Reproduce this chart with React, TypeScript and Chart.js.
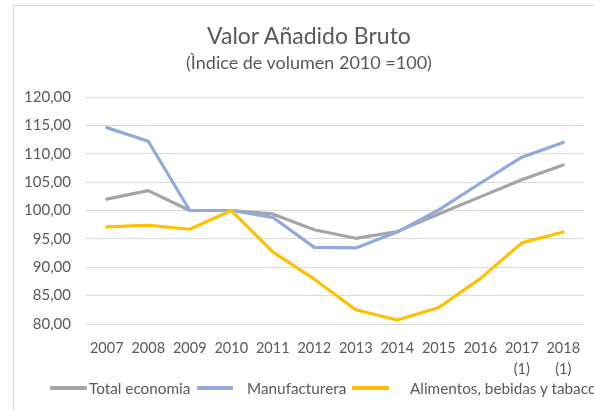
import React, { useEffect, useRef } from "react";
import { Chart, registerables } from "chart.js";

Chart.register(...registerables);

const categories: (string | string[])[] = [
  "2007", "2008", "2009", "2010", "2011", "2012", "2013", "2014", "2015", "2016",
  ["2017", "(1)"], ["2018", "(1)"],
];
const totalEconomia = [102.0, 103.5, 100.0, 100.0, 99.4, 96.6, 95.1, 96.3, 99.4, 102.4, 105.4, 108.0];
const manufacturera = [114.6, 112.2, 100.0, 100.0, 98.8, 93.5, 93.4, 96.2, 100.1, 104.8, 109.4, 112.0];
const alimentos = [97.1, 97.4, 96.7, 100.0, 92.7, 87.9, 82.5, 80.7, 82.9, 88.0, 94.3, 96.2];
const seriesNames = ["Total economia", "Manufacturera", "Alimentos, bebidas y tabaco"];
const seriesColors = ["#A5A5A5", "#8FAADC", "#FFC000"];
const titleText = "Valor Añadido Bruto";
const subtitleText = "(Ìndice de volumen 2010 =100)";
const yMin = 80;
const yMax = 120;
const yStep = 5;

const FONT = "Lato, 'Open Sans', sans-serif";
const TEXT = "#595959";

export default function App() {
  const ref = useRef<HTMLCanvasElement | null>(null);

  useEffect(() => {
    if (!ref.current) return;
    const values = [totalEconomia, manufacturera, alimentos];
    const chart = new Chart(ref.current, {
      type: "line",
      data: {
        labels: categories,
        datasets: values.map((v, i) => ({
          label: seriesNames[i],
          data: v,
          borderColor: seriesColors[i],
          backgroundColor: seriesColors[i],
          borderWidth: 3.2,
          pointRadius: 0,
          pointHoverRadius: 0,
          tension: 0,
          borderCapStyle: "round" as const,
          borderJoinStyle: "round" as const,
          order: 3 - i,
        })),
      },
      options: {
        animation: false,
        responsive: false,
        maintainAspectRatio: false,
        layout: { padding: { left: 0, right: 10, top: 97, bottom: 20 } },
        plugins: {
          legend: { display: false },
          title: { display: false },
          tooltip: { enabled: false },
        },
        scales: {
          x: {
            offset: true,
            grid: { display: false, drawTicks: false },
            border: { display: false },
            ticks: {
              color: TEXT,
              font: { family: FONT, size: 14.5, lineHeight: 1.5 },
              padding: 13,
              maxRotation: 0,
              autoSkip: false,
            },
            afterFit: (s: any) => {
              s.height = 66;
            },
          },
          y: {
            min: yMin,
            max: yMax,
            grid: { color: "#D9D9D9", lineWidth: 1, drawTicks: false },
            border: { display: false },
            ticks: {
              stepSize: yStep,
              color: TEXT,
              font: { family: FONT, size: 15 },
              padding: 15,
              callback: (v: any) => Number(v).toFixed(2).replace(".", ","),
            },
            afterFit: (s: any) => {
              s.width = 86;
            },
          },
        },
      },
    });
    return () => chart.destroy();
  }, []);

  const legendLine = (c: string, left: number, w: number): React.CSSProperties => ({
    position: "absolute",
    left,
    top: 386,
    width: w,
    height: 4,
    background: c,
    borderRadius: 1,
  });
  const legendText = (left: number): React.CSSProperties => ({
    position: "absolute",
    left,
    top: 378,
    fontSize: 15.3,
    lineHeight: "20px",
    whiteSpace: "nowrap",
  });

  return (
    <div
      style={{
        position: "fixed",
        left: 0,
        top: 0,
        width: 594,
        height: 410,
        background: "#fff",
        overflow: "hidden",
        fontFamily: FONT,
        color: TEXT,
      }}
    >
      <div
        style={{
          position: "absolute",
          left: 13,
          top: 5,
          width: 700,
          height: 500,
          borderLeft: "1px solid #D9D9D9",
          borderTop: "1px solid #D9D9D9",
        }}
      />
      <canvas ref={ref} width={594} height={410} style={{ position: "absolute", left: 0, top: 0 }} />
      <div
        style={{
          position: "absolute",
          left: 12,
          width: 594,
          top: 20,
          textAlign: "center",
          fontSize: 23,
          lineHeight: "30px",
          whiteSpace: "nowrap",
        }}
      >
        {titleText}
      </div>
      <div
        style={{
          position: "absolute",
          left: 12,
          width: 594,
          top: 50,
          textAlign: "center",
          fontSize: 18,
          lineHeight: "24px",
          whiteSpace: "nowrap",
        }}
      >
        {subtitleText}
      </div>
      <span style={legendLine(seriesColors[0], 50, 37)} />
      <span style={legendText(89)}>{seriesNames[0]}</span>
      <span style={legendLine(seriesColors[1], 197, 36)} />
      <span style={legendText(247)}>{seriesNames[1]}</span>
      <span style={legendLine(seriesColors[2], 352, 37)} />
      <span style={legendText(410)}>{seriesNames[2]}</span>
    </div>
  );
}
